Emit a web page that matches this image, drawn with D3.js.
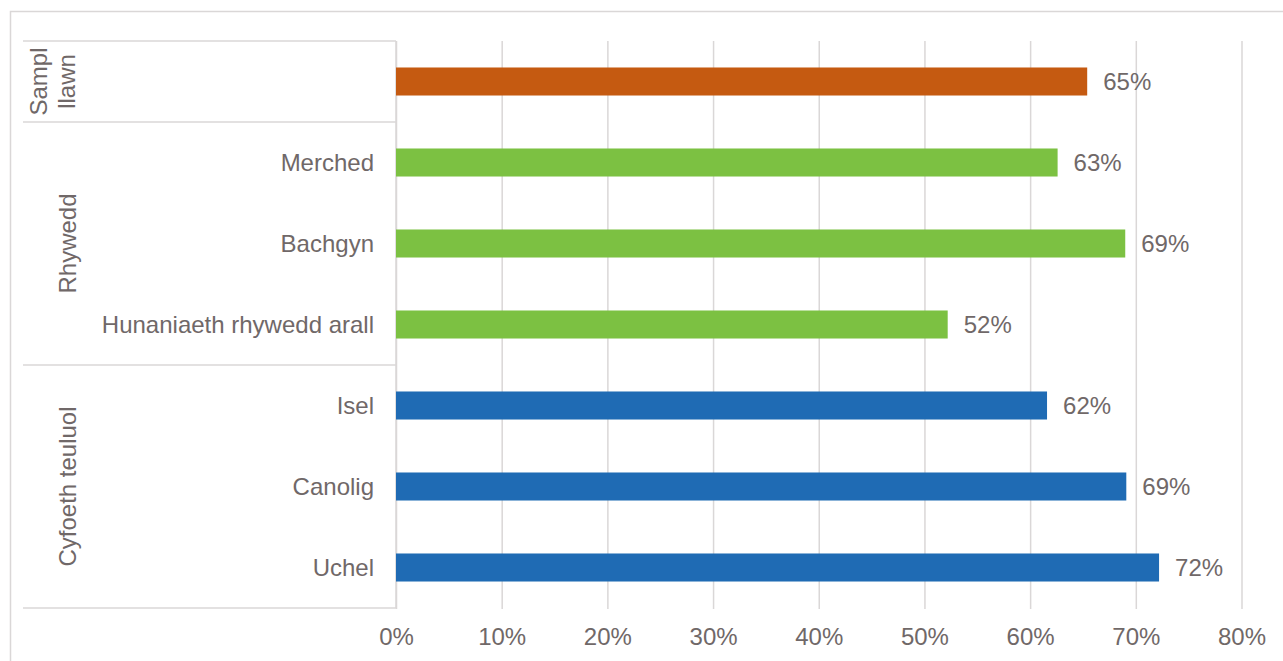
<!DOCTYPE html>
<html>
<head>
<meta charset="utf-8">
<script src="https://cdn.jsdelivr.net/npm/d3@7"></script>
<style>
  body { margin: 0; background: #fff; }
  text { font-family: "Liberation Sans", Arial, sans-serif; }
</style>
</head>
<body>
<div id="chartArea"></div>
<script>
// data
var groups = ['Sampl llawn', 'Rhywedd', 'Cyfoeth teuluol'];
var groupSizes = [1, 3, 3];
var groupColors = ['#c55a11', '#7cc142', '#1f6bb4'];
var categories = ['', 'Merched', 'Bachgyn', 'Hunaniaeth rhywedd arall', 'Isel', 'Canolig', 'Uchel'];
var categoryGroup = [0, 1, 1, 1, 2, 2, 2];
var values = [0.654, 0.626, 0.690, 0.522, 0.616, 0.691, 0.722];
var xTicks = [0, 0.1, 0.2, 0.3, 0.4, 0.5, 0.6, 0.7, 0.8];

var width = 1283, height = 661;
var margin = {top: 41, right: 41.5, bottom: 52, left: 396};
var textColor = '#706868', lineColor = '#dad7d7';
var fs = 24;

var svg = d3.select('#chartArea').append('svg')
    .attr('width', width)
    .attr('height', height);

// chart frame
svg.append('rect')
    .attr('x', 10.5).attr('y', 11.5)
    .attr('width', width).attr('height', height)
    .attr('fill', 'none').attr('stroke', lineColor).attr('stroke-width', 1.5);

var xscale = d3.scaleLinear().domain([0, 0.8]).range([margin.left, width - margin.right]);
var yscale = d3.scaleBand().domain(d3.range(categories.length))
    .range([margin.top, height - margin.bottom - 1])
    .paddingInner(0.654).paddingOuter(0.327);
var step = yscale.step();
var plotBottom = height - margin.bottom;

// gridlines + tick labels
var xAxis = svg.append('g')
    .attr('transform', 'translate(0,' + plotBottom + ')')
    .call(d3.axisBottom(xscale).tickValues(xTicks).tickFormat(d3.format('.0%'))
        .tickSize(-(plotBottom - margin.top)).tickPadding(19));
xAxis.select('.domain').remove();
xAxis.selectAll('line').attr('stroke', lineColor).attr('stroke-width', 1.5);
xAxis.selectAll('text')
    .attr('fill', textColor)
    .style('font-size', fs + 'px')
    .style('font-family', '"Liberation Sans", Arial, sans-serif');

// category axis lines
var yTop = yscale.range()[0], yBot = yscale.range()[1];
svg.append('line')
    .attr('x1', margin.left).attr('x2', margin.left)
    .attr('y1', yTop).attr('y2', yBot)
    .attr('stroke', lineColor).attr('stroke-width', 1.5);
var bounds = [0];
groupSizes.forEach(function(s, i) { bounds.push(bounds[i] + s); });
svg.selectAll('line.sep').data(bounds).enter().append('line')
    .attr('class', 'sep')
    .attr('x1', 23).attr('x2', margin.left)
    .attr('y1', function(d) { return yTop + d * step; })
    .attr('y2', function(d) { return yTop + d * step; })
    .attr('stroke', lineColor).attr('stroke-width', 1.5);

// bars
svg.append('g').selectAll('rect').data(values).enter().append('rect')
    .attr('x', xscale(0))
    .attr('y', function(d, i) { return yscale(i); })
    .attr('width', function(d) { return xscale(d) - xscale(0); })
    .attr('height', yscale.bandwidth())
    .attr('fill', function(d, i) { return groupColors[categoryGroup[i]]; });

// value labels
svg.append('g').selectAll('text').data(values).enter().append('text')
    .attr('x', function(d) { return xscale(d) + 16; })
    .attr('y', function(d, i) { return yscale(i) + yscale.bandwidth() / 2; })
    .attr('dy', '0.35em')
    .attr('fill', textColor)
    .style('font-size', fs + 'px')
    .text(function(d) { return d3.format('.0%')(d); });

// category labels
svg.append('g').selectAll('text').data(categories).enter().append('text')
    .attr('x', margin.left - 22)
    .attr('y', function(d, i) { return yscale(i) + yscale.bandwidth() / 2; })
    .attr('dy', '0.35em')
    .attr('text-anchor', 'end')
    .attr('fill', textColor)
    .style('font-size', fs + 'px')
    .text(function(d) { return d; });

// group labels, rotated
groups.forEach(function(g, i) {
    var cy = yTop + (bounds[i] + bounds[i + 1]) / 2 * step;
    var words = groupSizes[i] == 1 ? g.split(' ') : [g];
    var t = svg.append('text')
        .attr('transform', 'translate(' + (words.length > 1 ? 47 : 76) + ',' + cy + ') rotate(-90)')
        .attr('text-anchor', 'middle')
        .attr('fill', textColor)
        .style('font-size', fs + 'px');
    words.forEach(function(w, j) {
        t.append('tspan').attr('x', 0).attr('y', j * 28).text(w);
    });
});
</script>
</body>
</html>
